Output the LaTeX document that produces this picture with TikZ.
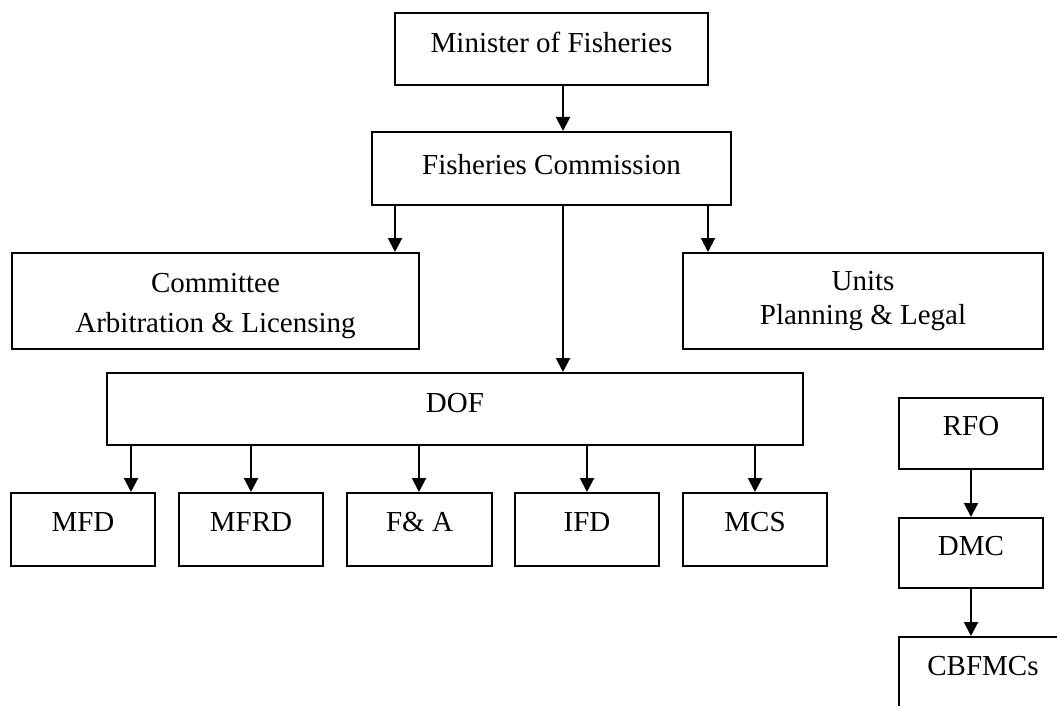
\documentclass[tikz,border=0pt]{standalone}
\usepackage{fontspec}
\setmainfont{Liberation Serif}
\usetikzlibrary{arrows.meta}
\begin{document}
\begin{tikzpicture}[x=1pt,y=-1pt,
  box/.style={draw, line width=2pt, inner sep=0pt, font=\fontsize{29}{36}\selectfont},
  one/.style={text height=19.2pt, text depth=#1},
  small/.style={box, one=15pt, minimum width=144pt, minimum height=73pt},
  arr/.style={-{Triangle[width=14pt,length=14pt]}, line width=2pt}]
\useasboundingbox (0,0) rectangle (1057,706);
\clip (0,0) rectangle (1057,706);
% boxes
\node[box, one=13pt, minimum width=313pt, minimum height=72pt] (min) at (551.5,49) {Minister of Fisheries};
\node[box, one=7pt, minimum width=359pt, minimum height=73pt] (fc) at (551.5,168.5) {Fisheries Commission};
\node[box, align=center, minimum width=407pt, minimum height=96pt, font=\fontsize{29}{40}\selectfont] (com) at (215.5,301) {\rule{0pt}{28.3pt}Committee\\Arbitration \& Licensing};
\node[box, align=center, minimum width=360pt, minimum height=96pt, font=\fontsize{29}{34.5}\selectfont] (uni) at (863,301) {Units\\Planning \& Legal};
\node[box, one=13pt, minimum width=696pt, minimum height=72pt] (dof) at (455,409) {DOF};
\node[small] (mfd) at (83,529.5) {MFD};
\node[small] (mfrd) at (251,529.5) {MFRD};
\node[small, minimum width=145pt] (fa) at (419.5,529.5) {F\& A};
\node[small] (ifd) at (587,529.5) {IFD};
\node[small] (mcs) at (755,529.5) {MCS};
\node[box, one=15pt, minimum width=144pt, minimum height=71pt] (rfo) at (971,433.5) {RFO};
\node[box, one=14pt, minimum width=144pt, minimum height=70pt] (dmc) at (971,553) {DMC};
\node[box, one=13pt, minimum width=168pt, minimum height=71pt] (cbf) at (983,672.5) {CBFMCs};
% helper x positions
\coordinate (x563) at (563,0);
\coordinate (x395) at (395,0);
\coordinate (x708) at (708,0);
\coordinate (x131) at (131,0);
\coordinate (x419) at (419,0);
% connectors
\draw[arr] (min.south -| x563) -- (fc.north -| x563);
\draw[arr] (fc.south -| x395) -- (com.north -| x395);
\draw[arr] (fc.south -| x708) -- (uni.north -| x708);
\draw[arr] (fc.south -| x563) -- (dof.north -| x563);
\draw[arr] (dof.south -| x131) -- (mfd.north -| x131);
\draw[arr] (dof.south -| mfrd.north) -- (mfrd.north);
\draw[arr] (dof.south -| x419) -- (fa.north -| x419);
\draw[arr] (dof.south -| ifd.north) -- (ifd.north);
\draw[arr] (dof.south -| mcs.north) -- (mcs.north);
\draw[arr] (rfo.south) -- (dmc.north);
\draw[arr] (dmc.south) -- (cbf.north -| dmc.south);
\end{tikzpicture}
\end{document}
